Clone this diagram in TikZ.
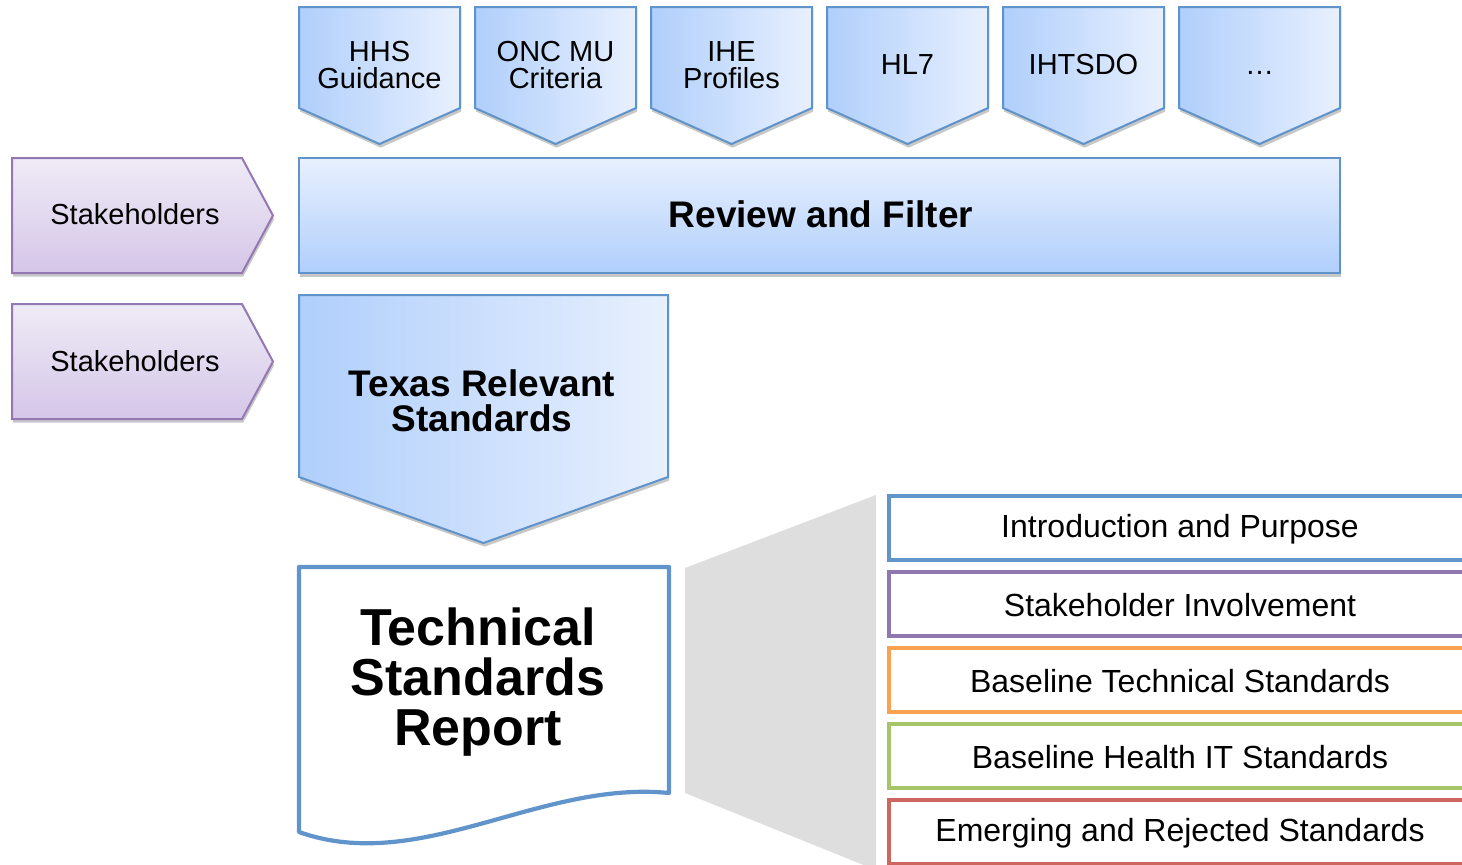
\documentclass[tikz,border=0pt]{standalone}
\usepackage{fontspec}
\setmainfont{Liberation Sans}
\usetikzlibrary{shadows}
\definecolor{bstroke}{HTML}{5F93C9}
\definecolor{bdark}{HTML}{B0CFFC}
\definecolor{blight}{HTML}{E8F0FD}
\definecolor{pstroke}{HTML}{9378B4}
\definecolor{ptop}{HTML}{EFEBF6}
\definecolor{pbot}{HTML}{D5C6E8}
\definecolor{cblue}{HTML}{6194CB}
\definecolor{cpurple}{HTML}{9177B0}
\definecolor{corange}{HTML}{F9A350}
\definecolor{cgreen}{HTML}{A6C468}
\definecolor{cred}{HTML}{CE6660}
\definecolor{cgray}{HTML}{DEDEDE}
\begin{document}
\begin{tikzpicture}[x=0.5pt,y=-0.5pt,
  shad/.style={drop shadow={shadow xshift=0.6pt,shadow yshift=-1.8pt,opacity=0.22,fill=black}},
  chevfill/.style={left color=bdark,right color=blight,draw=bstroke,line width=1pt,shad},
  stakefill/.style={top color=ptop,bottom color=pbot,draw=pstroke,line width=1pt,shad},
  lbl/.style={inner sep=0pt,align=center},
  chevtxt/.style={lbl,font=\fontsize{14.5}{13.2}\selectfont},
  secbox/.style={draw=#1,line width=2.3pt,fill=white},
  sectxt/.style={inner sep=0pt,font=\fontsize{16}{19}\selectfont}
]
\useasboundingbox (0,0) rectangle (1462,864);
\clip (0,0) rectangle (1462,864);

% top chevrons
\foreach \i/\nm/\txt in {0/hhs/{HHS\\Guidance},1/onc/{ONC MU\\Criteria},2/ihe/{IHE\\Profiles},3/hlseven/{HL7},4/ihtsdo/{IHTSDO},5/etc/{\vphantom{H}\ldots}} {
  \pgfmathsetmacro\xa{299+176*\i}
  \path[chevfill] (\xa,7) -- (\xa+161,7) -- (\xa+161,108) -- (\xa+80.5,144) -- (\xa,108) -- cycle;
  \node[chevtxt] (\nm) at (\xa+80.5,65) {\txt};
}

% stakeholders
\path[stakefill] (12,158) -- (242,158) -- (273,215.5) -- (242,273) -- (12,273) -- cycle;
\node[lbl,font=\fontsize{14.5}{17}\selectfont] (sh1) at (135,214) {Stakeholders};
\path[stakefill] (12,304) -- (242,304) -- (273,361.5) -- (242,419) -- (12,419) -- cycle;
\node[lbl,font=\fontsize{14.5}{17}\selectfont] (sh2) at (135,361) {Stakeholders};

% review and filter
\path[draw=bstroke,top color=blight,bottom color=bdark,line width=1pt,shad] (299,158) rectangle (1340,273);
\node[lbl,font=\fontsize{18.5}{20}\selectfont\bfseries] (review) at (821,214) {Review and Filter};

% texas relevant standards
\path[chevfill] (299,295) -- (668,295) -- (668,477) -- (483.5,543) -- (299,477) -- cycle;
\node[lbl,font=\fontsize{18.5}{17.5}\selectfont\bfseries] (texas) at (482,401) {Texas Relevant\\Standards};

% gray callout
\fill[cgray] (685,568) -- (876,495) -- (876,870) -- (685,793) -- cycle;

% document
\draw[draw=cblue,line width=2.1pt,fill=white,line join=round] (299,567) -- (669,567) -- (669,793) .. controls (540,780) and (420,875) .. (299,832) -- cycle;
\node[lbl,font=\fontsize{26}{25}\selectfont\bfseries] (tsr) at (478,682) {Technical\\Standards\\Report};

% sections
\foreach \j/\c/\nm/\t in {0/cblue/intro/Introduction and Purpose,1/cpurple/stake/Stakeholder Involvement,2/corange/btech/Baseline Technical Standards,3/cgreen/bhit/Baseline Health IT Standards,4/cred/emerg/Emerging and Rejected Standards} {
  \pgfmathsetmacro\ya{496+76*\j}
  \draw[secbox=\c] (889,\ya) rectangle (1475,\ya+64);
  \node[sectxt] (\nm) at (1180,\ya+33) {\t};
}
\end{tikzpicture}
\end{document}
